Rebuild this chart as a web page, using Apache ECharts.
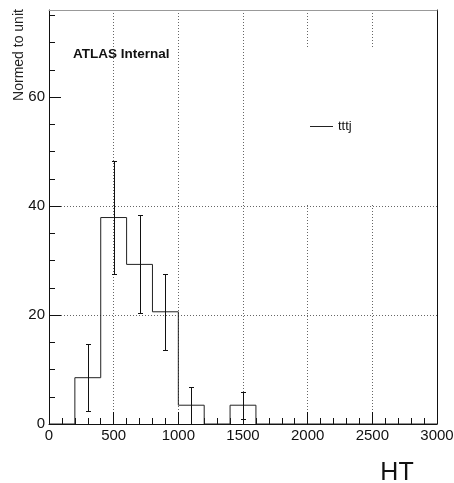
<!DOCTYPE html>
<html>
<head>
<meta charset="utf-8">
<script src="https://cdn.jsdelivr.net/npm/echarts@6/dist/echarts.min.js"></script>
<style>
  html, body { margin: 0; padding: 0; background: #fff; }
  #chart { width: 454px; height: 483px; }
</style>
</head>
<body>
<div id="chart"></div>
<script>
// HT distribution, 200-wide bins from 0 to 3000
const binEdges  = [0, 200, 400, 600, 800, 1000, 1200, 1400, 1600, 1800, 2000, 2200, 2400, 2600, 2800, 3000];
const binValues = [0, 8.5, 37.9, 29.3, 20.6, 3.45, 0, 3.45, 0, 0, 0, 0, 0, 0, 0];
const binErrors = [0, 6.2, 10.35, 9.0, 6.95, 3.4, 0, 2.45, 0, 0, 0, 0, 0, 0, 0];
const xTickValues = [0, 500, 1000, 1500, 2000, 2500, 3000];
const yTickValues = [0, 20, 40, 60];
const seriesName = 'tttj';
const xTitle = 'HT';
const yTitle = 'Normed to unit';
const tagText = 'ATLAS Internal';

const FONT = '"Liberation Sans", Arial, Helvetica, sans-serif';

// step outline: one point per bin left edge plus the closing edge
const stepPoints = binValues.map((v, i) => [binEdges[i], v]);
stepPoints.push([binEdges[binEdges.length - 1], binValues[binValues.length - 1]]);

// error bars at bin centres for filled bins
const errorBars = [];
binValues.forEach((v, i) => {
  if (v > 0) {
    const c = (binEdges[i] + binEdges[i + 1]) / 2;
    errorBars.push([c, v - binErrors[i], v + binErrors[i]]);
  }
});

const chart = echarts.init(document.getElementById('chart'), null, { renderer: 'canvas' });

const crisp = (p) => Math.round(p) + 0.5;
const plain = (v) => String(v);

chart.setOption({
  animation: false,
  backgroundColor: '#fff',
  textStyle: { fontFamily: FONT },
  grid: { left: 49, right: 17, top: 10, bottom: 59, containLabel: false, outerBoundsMode: 'none' },
  legend: {
    left: 310, top: 120, padding: 0, z: 10,
    icon: 'rect', itemWidth: 23, itemHeight: 1, itemGap: 4,
    textStyle: { fontSize: 13, color: '#111', fontFamily: FONT },
    data: [{ name: seriesName }]
  },
  xAxis: [{
    type: 'value', min: 0, max: 3000, interval: 500, position: 'bottom',
    axisLine: { show: true, onZero: false, lineStyle: { color: '#111', width: 1 } },
    axisTick: { show: true, inside: true, length: 12, lineStyle: { color: '#111' } },
    minorTick: { show: true, splitNumber: 5, length: 6, lineStyle: { color: '#111' } },
    axisLabel: {
      fontSize: 15, color: '#111', margin: 4, fontFamily: FONT,
      customValues: xTickValues, formatter: plain
    },
    splitLine: { show: true, showMinLine: false, showMaxLine: false,
      lineStyle: { color: '#666', width: 1, type: [1, 2] } }
  }, {
    type: 'value', min: 0, max: 3000, position: 'top',
    axisLine: { show: true, onZero: false, lineStyle: { color: '#999', width: 1 } },
    axisTick: { show: false }, axisLabel: { show: false }, splitLine: { show: false }
  }],
  yAxis: [{
    type: 'value', min: 0, max: 76, interval: 20, position: 'left',
    axisLine: { show: true, onZero: false, lineStyle: { color: '#111', width: 1 } },
    axisTick: { show: true, inside: true, length: 12, lineStyle: { color: '#111' },
      customValues: yTickValues },
    minorTick: { show: true, splitNumber: 4, length: 6, lineStyle: { color: '#111' } },
    axisLabel: { fontSize: 15, color: '#111', margin: 4, fontFamily: FONT,
      customValues: yTickValues, formatter: plain },
    splitLine: { show: true, showMinLine: false, showMaxLine: false,
      lineStyle: { color: '#666', width: 1, type: [1, 2] } }
  }, {
    type: 'value', min: 0, max: 76, position: 'right',
    axisLine: { show: true, onZero: false, lineStyle: { color: '#111', width: 1 } },
    axisTick: { show: false }, axisLabel: { show: false }, splitLine: { show: false }
  }],
  graphic: [
    { type: 'rect', z: 5, shape: { x: 306, y: 47, width: 123, height: 158 },
      style: { fill: '#fff' } },
    { type: 'text', z: 6, x: 73, y: 54,
      style: { text: tagText, font: 'bold 13.5px ' + FONT, fill: '#111',
        textAlign: 'left', textVerticalAlign: 'middle' } },
    { type: 'text', z: 6, x: 19, y: 55, rotation: Math.PI / 2,
      style: { text: yTitle, font: '14px ' + FONT, fill: '#222',
        textAlign: 'center', textVerticalAlign: 'middle' } },
    { type: 'text', z: 6, x: 397, y: 473.5,
      style: { text: xTitle, font: '25px ' + FONT, fill: '#111',
        textAlign: 'center', textVerticalAlign: 'middle' } }
  ],
  series: [{
    name: seriesName, type: 'line', step: 'end', data: stepPoints,
    symbol: 'none', color: '#222', z: 3,
    lineStyle: { color: '#222', width: 1 }
  }, {
    name: seriesName + ' errors', type: 'custom', data: errorBars, z: 4,
    encode: { x: 0, y: [1, 2] },
    renderItem: function (params, api) {
      const x = api.value(0);
      const lo = api.coord([x, api.value(1)]);
      const hi = api.coord([x, api.value(2)]);
      const cx = crisp(lo[0]);
      const yl = crisp(lo[1]);
      const yh = crisp(hi[1]);
      const w = 2.5;
      const st = { stroke: '#111', lineWidth: 1 };
      return {
        type: 'group',
        children: [
          { type: 'line', shape: { x1: cx, y1: yl, x2: cx, y2: yh }, style: st },
          { type: 'line', shape: { x1: cx - w, y1: yh, x2: cx + w, y2: yh }, style: st },
          { type: 'line', shape: { x1: cx - w, y1: yl, x2: cx + w, y2: yl }, style: st }
        ]
      };
    }
  }]
});
</script>
</body>
</html>
